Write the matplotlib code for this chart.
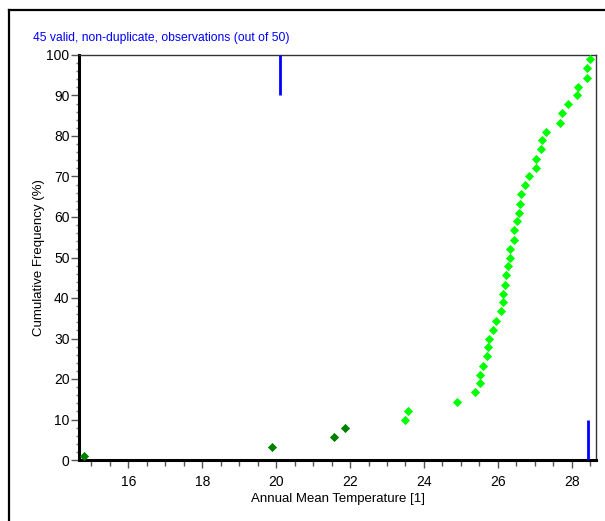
import matplotlib
matplotlib.use("Agg")
import matplotlib.pyplot as plt
from matplotlib.ticker import MultipleLocator
from matplotlib.lines import Line2D

plt.rcParams['font.family'] = ['Liberation Sans', 'DejaVu Sans']

# Data
temps = [14.80, 19.88, 21.57, 21.87, 23.48, 23.56, 24.90, 25.38, 25.53, 25.53,
         25.59, 25.70, 25.73, 25.77, 25.87, 25.94, 26.08, 26.15, 26.15, 26.19,
         26.22, 26.28, 26.32, 26.32, 26.43, 26.43, 26.53, 26.57, 26.60, 26.63,
         26.74, 26.84, 27.03, 27.03, 27.16, 27.20, 27.30, 27.68, 27.73, 27.89,
         28.14, 28.18, 28.42, 28.42, 28.49]
cumfreq = [1.1, 3.3, 5.6, 7.8, 10.0, 12.2, 14.4, 16.7, 18.9, 21.1,
           23.3, 25.6, 27.8, 30.0, 32.2, 34.4, 36.7, 38.9, 41.1, 43.3,
           45.6, 47.8, 50.0, 52.2, 54.4, 56.7, 58.9, 61.1, 63.3, 65.6,
           67.8, 70.0, 72.2, 74.4, 76.7, 78.9, 81.1, 83.3, 85.6, 87.8,
           90.0, 92.2, 94.4, 96.7, 98.9]
n_dark = 4  # first points drawn in dark green
marker_lines = [(20.09, 90, 100), (28.45, 0, 10)]  # (x, ymin, ymax)
title = "45 valid, non-duplicate, observations (out of 50)"
xlabel = "Annual Mean Temperature [1]"
ylabel = "Cumulative Frequency (%)"

W, H = 605, 521
fig = plt.figure(figsize=(W / 100, H / 100), dpi=100)
fig.patch.set_facecolor('white')

L, R, B, T = 79.3, 595.7, 460, 55
ax = fig.add_axes([L / W, 1 - B / H, (R - L) / W, (B - T) / H])
ax.set_xlim(14.67, 28.65)
ax.set_ylim(0, 100)

ax.scatter(temps[:n_dark], cumfreq[:n_dark], marker='D', s=22, color='#008000',
           linewidths=0, zorder=3, clip_on=False)
ax.scatter(temps[n_dark:], cumfreq[n_dark:], marker='D', s=22, color='#00ff00',
           linewidths=0, zorder=3, clip_on=False)
for x, y0, y1 in marker_lines:
    ax.plot([x, x], [y0, y1], color='#0000ff', lw=2, zorder=4, solid_capstyle='butt')

ax.xaxis.set_major_locator(MultipleLocator(2))
ax.xaxis.set_minor_locator(MultipleLocator(0.5))
ax.yaxis.set_major_locator(MultipleLocator(10))
ax.yaxis.set_minor_locator(MultipleLocator(2))

for s in ['left', 'bottom']:
    ax.spines[s].set_linewidth(2.2)
    ax.spines[s].set_color('black')
for s in ['top', 'right']:
    ax.spines[s].set_linewidth(1.0)
    ax.spines[s].set_color('#333333')

ax.tick_params(axis='x', which='major', length=6, width=1, color='#555555',
               labelsize=10, pad=5)
ax.tick_params(axis='x', which='minor', length=4, width=1, color='#555555')
ax.tick_params(axis='y', which='major', length=6, width=1, color='#555555',
               labelsize=10, pad=1)
ax.tick_params(axis='y', which='minor', length=2, width=1, color='#777777')

ax.set_xlabel(xlabel, fontsize=9.5, labelpad=3)
ax.set_ylabel(ylabel, fontsize=9.5, labelpad=1)

fig.text(33 / W, 1 - 38 / H, title, color='#0000ff', fontsize=8.7,
         va='center', ha='left')

# outer frame (left and top)
fig.add_artist(Line2D([9 / W, 9 / W], [0, 1 - 10 / H], color='black', lw=1.6,
                      transform=fig.transFigure))
fig.add_artist(Line2D([9 / W, 1], [1 - 10 / H, 1 - 10 / H], color='black', lw=1.6,
                      transform=fig.transFigure))

fig.savefig('out.png', dpi=100, facecolor='white')
